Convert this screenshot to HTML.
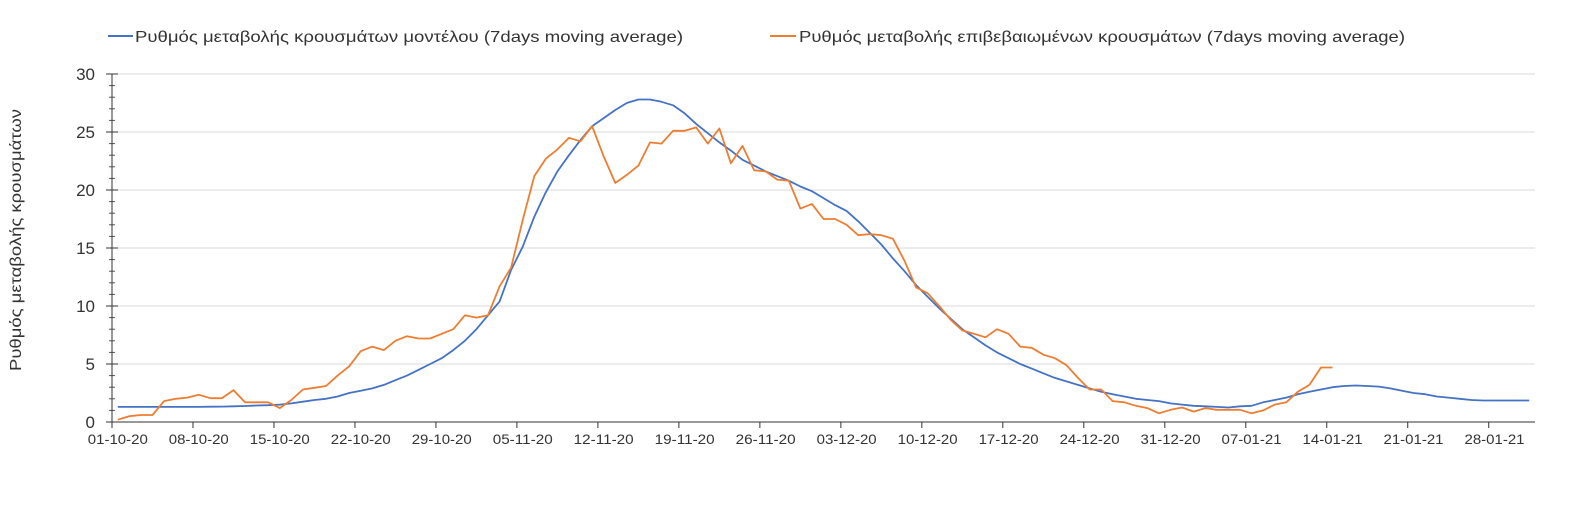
<!DOCTYPE html>
<html><head><meta charset="utf-8"><style>
body{margin:0;background:#fff;}
svg{display:block;font-family:"Liberation Sans","DejaVu Sans",sans-serif;}
</style></head><body>
<svg id="chart" width="1572" height="505" viewBox="0 0 1572 505">
<g>
 <g><line x1="108" y1="36" x2="133" y2="36" stroke="#4472c4" stroke-width="2"/><text x="135" y="42" font-size="16" fill="#333" textLength="548" lengthAdjust="spacingAndGlyphs">Ρυθμός μεταβολής κρουσμάτων μοντέλου (7days moving average)</text></g>
 <g><line x1="770" y1="36" x2="796" y2="36" stroke="#ed7d31" stroke-width="2"/><text x="799" y="42" font-size="16" fill="#333" textLength="606" lengthAdjust="spacingAndGlyphs">Ρυθμός μεταβολής επιβεβαιωμένων κρουσμάτων (7days moving average)</text></g>
</g>
<text transform="translate(21,240) rotate(-90)" text-anchor="middle" font-size="16" fill="#333" textLength="262" lengthAdjust="spacingAndGlyphs">Ρυθμός μεταβολής κρουσμάτων</text>
<g id="grid"></g>
<g id="axes"></g>
<g id="series"></g>
</svg>
<script>
const yTicks=[0,5,10,15,20,25,30];
const xTickLabels=["01-10-20","08-10-20","15-10-20","22-10-20","29-10-20","05-11-20","12-11-20","19-11-20","26-11-20","03-12-20","10-12-20","17-12-20","24-12-20","31-12-20","07-01-21","14-01-21","21-01-21","28-01-21"];
const nDays=123;
const modelValues=[1.3,1.3,1.3,1.3,1.3,1.3,1.3,1.3,1.32,1.33,1.35,1.38,1.42,1.45,1.5,1.6,1.75,1.9,2.0,2.2,2.5,2.7,2.9,3.2,3.6,4.0,4.5,5.0,5.5,6.2,7.0,8.0,9.2,10.4,13.1,15.1,17.7,19.8,21.6,23.0,24.3,25.5,26.2,26.9,27.5,27.8,27.8,27.6,27.3,26.6,25.7,24.9,24.1,23.4,22.6,22.1,21.6,21.2,20.8,20.3,19.9,19.3,18.7,18.2,17.3,16.3,15.3,14.1,13.0,11.8,10.8,9.8,8.9,8.0,7.3,6.6,6.0,5.5,5.0,4.6,4.2,3.8,3.5,3.2,2.9,2.6,2.4,2.2,2.0,1.9,1.8,1.6,1.5,1.4,1.35,1.3,1.25,1.35,1.4,1.7,1.9,2.1,2.4,2.6,2.8,3.0,3.1,3.15,3.1,3.05,2.9,2.7,2.5,2.4,2.2,2.1,2.0,1.9,1.85,1.85,1.85,1.85,1.85];
const confirmedValues=[0.2,0.5,0.6,0.6,1.8,2.0,2.1,2.35,2.05,2.05,2.75,1.7,1.7,1.7,1.2,1.9,2.8,2.95,3.1,4.0,4.8,6.1,6.5,6.2,7.0,7.4,7.2,7.2,7.6,8.0,9.2,9.0,9.2,11.7,13.3,17.4,21.2,22.7,23.5,24.5,24.2,25.5,22.9,20.6,21.3,22.1,24.1,24.0,25.1,25.1,25.4,24.0,25.3,22.3,23.8,21.7,21.6,20.9,20.8,18.4,18.8,17.5,17.5,17.0,16.1,16.2,16.1,15.8,13.9,11.6,11.1,10.0,8.8,7.9,7.6,7.3,8.0,7.6,6.5,6.4,5.8,5.5,4.9,3.8,2.8,2.8,1.8,1.7,1.4,1.2,0.75,1.05,1.25,0.9,1.2,1.05,1.05,1.05,0.75,1.0,1.5,1.7,2.6,3.2,4.7,4.7];

const NS="http://www.w3.org/2000/svg";
const x0=112,x1=1535,yb=422,yt=74,yMax=30;
const step=(x1-x0)/nDays;
const xPos=i=>x0+step*(i+0.5);
const yPos=v=>yb-(v/yMax)*(yb-yt);
function mk(tag,attrs,parent){const e=document.createElementNS(NS,tag);for(const k in attrs)e.setAttribute(k,attrs[k]);parent.appendChild(e);return e;}
const grid=document.getElementById('grid'),axes=document.getElementById('axes'),series=document.getElementById('series');
yTicks.forEach(v=>{
 if(v>0){const g=mk('line',{x1:x0,x2:x1,y1:yPos(v),y2:yPos(v),stroke:'#d9d9d9','stroke-width':1},grid);
 
 }
 const t=mk('text',{x:95,y:yPos(v)+6,'text-anchor':'end','font-size':17,fill:'#333'},axes);
 t.textContent=v;
 
 
 mk('line',{x1:x0-6,x2:x0+6,y1:yPos(v),y2:yPos(v),stroke:'#333','stroke-width':1},axes);
});
for(let v=1;v<yMax;v++){if(v%5)mk('line',{x1:x0-3,x2:x0+3,y1:yPos(v),y2:yPos(v),stroke:'#555','stroke-width':1},axes);}
const ya=mk('line',{x1:x0,x2:x0,y1:yt,y2:yb,stroke:'#333','stroke-width':1},axes);


const xa=mk('line',{x1:x0,x2:x1,y1:yb,y2:yb,stroke:'#333','stroke-width':1},axes);


xTickLabels.forEach((lab,k)=>{
 const i=k*7;
 mk('line',{x1:x0+step*i,x2:x0+step*i,y1:yb,y2:yb+6,stroke:'#333','stroke-width':1},axes);
 const t=mk('text',{x:xPos(i),y:yb+22,'text-anchor':'middle','font-size':14,fill:'#333',textLength:60,lengthAdjust:'spacingAndGlyphs'},axes);
 t.textContent=lab;
 
 
});
function line(vals,color,name){
 const d=vals.map((v,i)=>(i?'L':'M')+xPos(i).toFixed(1)+' '+yPos(v).toFixed(1)).join(' ');
 const p=mk('path',{d:d,fill:'none',stroke:color,'stroke-width':1.8,'stroke-linejoin':'round'},series);
 
 
}
line(modelValues,'#4472c4','model-series-line');
line(confirmedValues,'#ed7d31','confirmed-series-line');
</script>
</body></html>
